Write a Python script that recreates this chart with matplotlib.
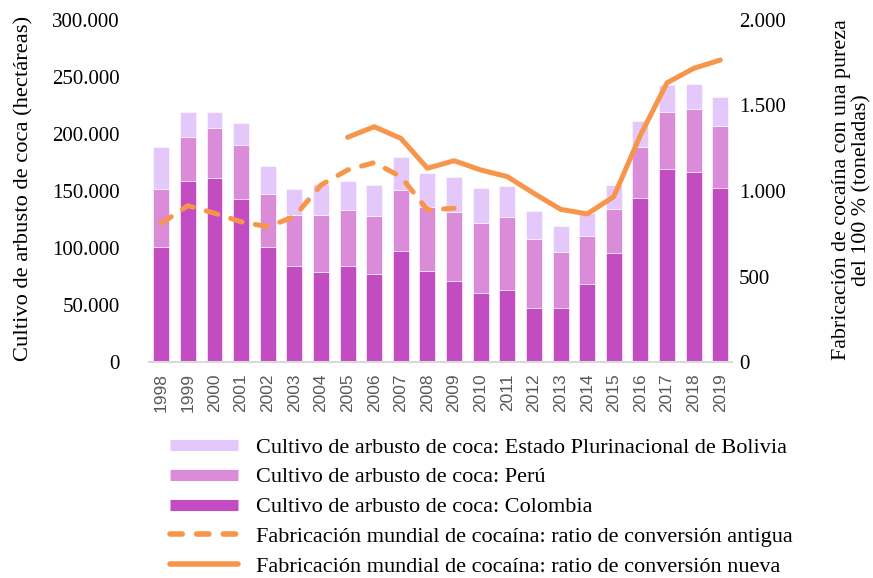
import matplotlib
matplotlib.use("Agg")
import matplotlib.pyplot as plt
from matplotlib.lines import Line2D
from matplotlib.ticker import FuncFormatter
import numpy as np

years = [str(y) for y in range(1998, 2020)]
colombia = [101, 158.5, 161.7, 143.3, 100.9, 84.5, 79.2, 84.5, 76.9, 97.6, 80.1, 71.3,
            60.5, 62.9, 47.6, 47.6, 68.4, 95.3, 144.1, 169.3, 166.9, 152.9]
peru = [50.8, 39.1, 43.6, 46.7, 46.7, 44.7, 50.0, 48.8, 51.1, 53.3, 55.6, 60.3,
        61.1, 64.0, 60.0, 48.9, 42.4, 39.2, 44.8, 49.7, 54.7, 54.4]
bolivia = [37.1, 21.4, 13.7, 19.6, 24.0, 22.6, 27.2, 25.2, 27.3, 29.2, 30.3, 31.0,
           31.3, 27.2, 24.9, 22.8, 19.6, 20.8, 22.5, 24.0, 22.6, 24.9]
colombia = [v * 1000 for v in colombia]
peru = [v * 1000 for v in peru]
bolivia = [v * 1000 for v in bolivia]

old_years = years[:12]
old_ratio = [811, 914, 870, 820, 791, 850, 1035, 1123, 1166, 1084, 889, 899]
new_years = years[7:]
new_ratio = [1314, 1376, 1308, 1133, 1177, 1123, 1084, 986, 893, 866, 967, 1327,
             1633, 1717, 1766]

left_ticks = [0, 50000, 100000, 150000, 200000, 250000, 300000]
right_ticks = [0, 500, 1000, 1500, 2000]

c_bol = "#E4C8FB"
c_per = "#DA8CD8"
c_col = "#C24DC2"
c_org = "#F7964A"

serif = "Liberation Serif"
sans = "Liberation Sans"

fig = plt.figure(figsize=(8.73, 5.78), dpi=100)
ax = fig.add_axes([149 / 873, 1 - 362 / 578, (732 - 149) / 873, (362 - 20) / 578])

x = np.arange(len(years))
w = 0.6
ax.bar(x, colombia, w, color=c_col, edgecolor="white", linewidth=0.4)
ax.bar(x, peru, w, bottom=colombia, color=c_per, edgecolor="white", linewidth=0.4)
bot2 = np.array(colombia) + np.array(peru)
ax.bar(x, bolivia, w, bottom=bot2, color=c_bol, edgecolor="white", linewidth=0.4)

ax.set_xlim(-0.46, len(years) - 1 + 0.44)
ax.set_ylim(0, 300000)
ax.set_yticks(left_ticks)
ax.yaxis.set_major_formatter(FuncFormatter(lambda v, p: f"{int(v):,}".replace(",", ".")))
ax.set_xticks(x)
ax.set_xticklabels(years, rotation=90, family=sans, fontsize=12.5, color="#595959")
for lab in ax.get_yticklabels():
    lab.set_family(serif)
    lab.set_fontsize(15)
ax.tick_params(axis="y", length=0, pad=21)
ax.tick_params(axis="x", length=0, pad=8)
for s in ["left", "right", "top"]:
    ax.spines[s].set_visible(False)
ax.spines["bottom"].set_color("#D9D9D9")
ax.spines["bottom"].set_linewidth(1.5)

fig.text(24 / 873, 1 - 188 / 578, "Cultivo de arbusto de coca (hectáreas)",
         rotation=90, ha="center", va="center", family=serif, fontsize=16.2)

ax2 = ax.twinx()
ix_old = [years.index(y) for y in old_years]
ix_new = [years.index(y) for y in new_years]
ax2.plot(ix_old, old_ratio, color=c_org, lw=3.6, dashes=(2.4, 2.7),
         dash_capstyle="round", solid_capstyle="round")
ax2.plot(ix_new, new_ratio, color=c_org, lw=3.6, solid_capstyle="round",
         solid_joinstyle="round")
ax2.set_ylim(0, 2000)
ax2.set_yticks(right_ticks)
ax2.yaxis.set_major_formatter(FuncFormatter(lambda v, p: f"{int(v):,}".replace(",", ".")))
for lab in ax2.get_yticklabels():
    lab.set_family(serif)
    lab.set_fontsize(15)
ax2.tick_params(axis="y", length=0, pad=5)
for s in ["left", "right", "top", "bottom"]:
    ax2.spines[s].set_visible(False)

fig.text(852 / 873, 1 - 190 / 578,
         "Fabricación de cocaína con una pureza\ndel 100 % (toneladas)",
         rotation=90, ha="center", va="center", family=serif, fontsize=15.8,
         multialignment="center", linespacing=1.1)

handles = [
    Line2D([], [], color=c_bol, lw=8, solid_capstyle="butt"),
    Line2D([], [], color=c_per, lw=8, solid_capstyle="butt"),
    Line2D([], [], color=c_col, lw=8, solid_capstyle="butt"),
    Line2D([], [], color=c_org, lw=4, dashes=(2.2, 2.6), dash_capstyle="round"),
    Line2D([], [], color=c_org, lw=4, solid_capstyle="round"),
]
labels = [
    "Cultivo de arbusto de coca: Estado Plurinacional de Bolivia",
    "Cultivo de arbusto de coca: Perú",
    "Cultivo de arbusto de coca: Colombia",
    "Fabricación mundial de cocaína: ratio de conversión antigua",
    "Fabricación mundial de cocaína: ratio de conversión nueva",
]
fig.legend(handles, labels, loc="upper left", bbox_to_anchor=(170 / 873, 1 - 437 / 578),
           frameon=False, prop={"family": serif, "size": 16}, handlelength=3.05,
           handletextpad=0.8, labelspacing=0.42, borderpad=0, borderaxespad=0)

fig.savefig("out.png", dpi=100)
